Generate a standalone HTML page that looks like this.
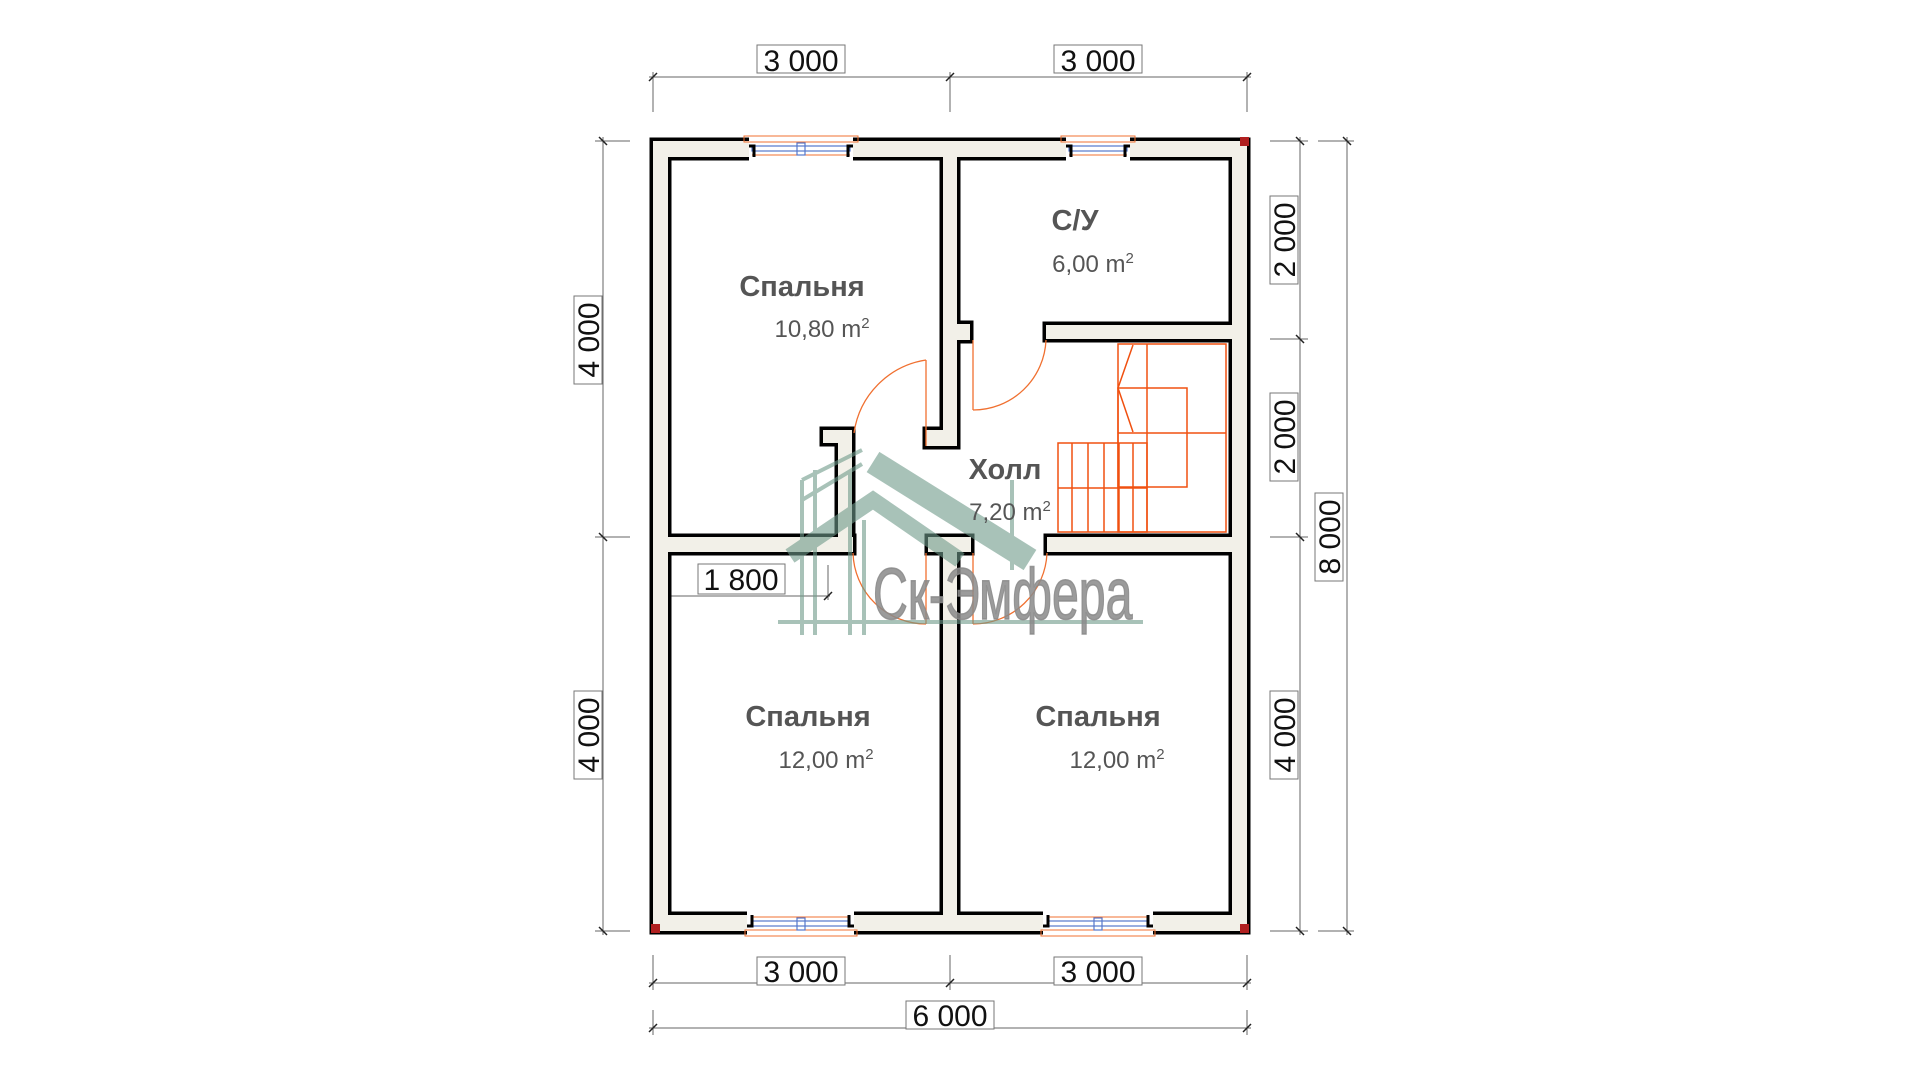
<!DOCTYPE html>
<html><head><meta charset="utf-8"><style>
html,body{margin:0;padding:0;background:#fff;}
svg{display:block;}
text{font-family:"Liberation Sans",sans-serif;}
</style></head><body>
<svg width="1920" height="1080" viewBox="0 0 1920 1080" xmlns="http://www.w3.org/2000/svg">
<rect width="1920" height="1080" fill="#fff"/>

<g stroke="#666" stroke-width="1" fill="none">
  <line x1="649" y1="77" x2="1251" y2="77"/>
  <line x1="653" y1="72" x2="653" y2="112"/><line x1="950" y1="72" x2="950" y2="112"/><line x1="1247" y1="72" x2="1247" y2="112"/>
  <line x1="649" y1="983" x2="1251" y2="983"/>
  <line x1="653" y1="955" x2="653" y2="990"/><line x1="950" y1="955" x2="950" y2="990"/><line x1="1247" y1="955" x2="1247" y2="990"/>
  <line x1="649" y1="1028" x2="1251" y2="1028"/>
  <line x1="653" y1="1010" x2="653" y2="1035"/><line x1="1247" y1="1010" x2="1247" y2="1035"/>
  <line x1="603" y1="137" x2="603" y2="935"/>
  <line x1="595" y1="141" x2="630" y2="141"/><line x1="595" y1="537" x2="630" y2="537"/><line x1="595" y1="931" x2="630" y2="931"/>
  <line x1="1300" y1="137" x2="1300" y2="935"/>
  <line x1="1270" y1="141" x2="1308" y2="141"/><line x1="1270" y1="339" x2="1308" y2="339"/><line x1="1270" y1="537" x2="1308" y2="537"/><line x1="1270" y1="931" x2="1308" y2="931"/>
  <line x1="1347" y1="137" x2="1347" y2="935"/>
  <line x1="1318" y1="141" x2="1354" y2="141"/><line x1="1318" y1="931" x2="1354" y2="931"/>
  <line x1="653" y1="596" x2="830" y2="596"/><line x1="828" y1="565" x2="828" y2="600"/>
</g>
<g stroke="#222" stroke-width="1.5">
  <line x1="649" y1="81" x2="657" y2="73"/><line x1="946" y1="81" x2="954" y2="73"/><line x1="1243" y1="81" x2="1251" y2="73"/>
  <line x1="649" y1="987" x2="657" y2="979"/><line x1="946" y1="987" x2="954" y2="979"/><line x1="1243" y1="987" x2="1251" y2="979"/>
  <line x1="649" y1="1032" x2="657" y2="1024"/><line x1="1243" y1="1032" x2="1251" y2="1024"/>
  <line x1="599" y1="137" x2="607" y2="145"/><line x1="599" y1="533" x2="607" y2="541"/><line x1="599" y1="927" x2="607" y2="935"/>
  <line x1="1296" y1="137" x2="1304" y2="145"/><line x1="1296" y1="335" x2="1304" y2="343"/><line x1="1296" y1="533" x2="1304" y2="541"/><line x1="1296" y1="927" x2="1304" y2="935"/>
  <line x1="1343" y1="137" x2="1351" y2="145"/><line x1="1343" y1="927" x2="1351" y2="935"/>
  <line x1="824" y1="600" x2="832" y2="592"/>
</g>

<g font-size="30" fill="#111" text-anchor="middle">
  <rect x="757" y="45" width="88" height="28" fill="#fff" stroke="#777"/><text x="801" y="71">3 000</text>
  <rect x="1054" y="45" width="88" height="28" fill="#fff" stroke="#777"/><text x="1098" y="71">3 000</text>
  <rect x="757" y="957" width="88" height="28" fill="#fff" stroke="#777"/><text x="801" y="982">3 000</text>
  <rect x="1054" y="957" width="88" height="28" fill="#fff" stroke="#777"/><text x="1098" y="982">3 000</text>
  <rect x="906" y="1001" width="88" height="28" fill="#fff" stroke="#777"/><text x="950" y="1026">6 000</text>
  <rect x="698" y="564" width="87" height="30" fill="#fff" stroke="#777"/><text x="741" y="590">1 800</text>
  <g transform="translate(588,340) rotate(-90)"><rect x="-44" y="-14" width="88" height="28" fill="#fff" stroke="#777"/><text x="0" y="11">4 000</text></g>
  <g transform="translate(588,735) rotate(-90)"><rect x="-44" y="-14" width="88" height="28" fill="#fff" stroke="#777"/><text x="0" y="11">4 000</text></g>
  <g transform="translate(1284,240) rotate(-90)"><rect x="-44" y="-14" width="88" height="28" fill="#fff" stroke="#777"/><text x="0" y="11">2 000</text></g>
  <g transform="translate(1284,437) rotate(-90)"><rect x="-44" y="-14" width="88" height="28" fill="#fff" stroke="#777"/><text x="0" y="11">2 000</text></g>
  <g transform="translate(1284,735) rotate(-90)"><rect x="-44" y="-14" width="88" height="28" fill="#fff" stroke="#777"/><text x="0" y="11">4 000</text></g>
  <g transform="translate(1329,537) rotate(-90)"><rect x="-44" y="-14" width="88" height="28" fill="#fff" stroke="#777"/><text x="0" y="11">8 000</text></g>
</g>

<g fill="#000" stroke="#000" stroke-width="7">
  <rect x="653" y="141" width="594" height="16"/>
  <rect x="653" y="915" width="594" height="16"/>
  <rect x="653" y="141" width="15" height="790"/>
  <rect x="1232" y="141" width="15" height="790"/>
  <rect x="943" y="141" width="14" height="305"/>
  <rect x="943" y="324" width="27" height="16"/>
  <rect x="926" y="430" width="31" height="16"/>
  <rect x="1046" y="325" width="186" height="14"/>
  <rect x="823" y="430" width="29" height="13"/>
  <rect x="838" y="430" width="14" height="120"/>
  <rect x="668" y="537" width="185" height="15"/>
  <rect x="928" y="537" width="43" height="15"/>
  <rect x="943" y="537" width="14" height="394"/>
  <rect x="1047" y="537" width="185" height="15"/>
</g>
<g fill="#f2f0e8">
  <rect x="653" y="141" width="594" height="16"/>
  <rect x="653" y="915" width="594" height="16"/>
  <rect x="653" y="141" width="15" height="790"/>
  <rect x="1232" y="141" width="15" height="790"/>
  <rect x="943" y="141" width="14" height="305"/>
  <rect x="943" y="324" width="27" height="16"/>
  <rect x="926" y="430" width="31" height="16"/>
  <rect x="1046" y="325" width="186" height="14"/>
  <rect x="823" y="430" width="29" height="13"/>
  <rect x="838" y="430" width="14" height="120"/>
  <rect x="668" y="537" width="185" height="15"/>
  <rect x="928" y="537" width="43" height="15"/>
  <rect x="943" y="537" width="14" height="394"/>
  <rect x="1047" y="537" width="185" height="15"/>
</g>
<rect x="1240" y="137" width="9" height="9" fill="#b02020"/>
<rect x="651" y="924" width="9" height="9" fill="#b02020"/>
<rect x="1240" y="924" width="9" height="9" fill="#b02020"/>

<g>
  <rect x="749" y="136" width="104" height="26" fill="#fff"/>
  <rect x="1066" y="136" width="64" height="26" fill="#fff"/>
  <rect x="747" y="910" width="107" height="26" fill="#fff"/>
  <rect x="1043" y="910" width="110" height="26" fill="#fff"/>
  <g fill="none" stroke="#f07030" stroke-width="1">
    <rect x="744" y="136" width="114" height="6"/><line x1="752" y1="155" x2="850" y2="155"/>
    <rect x="1061" y="136" width="74" height="6"/><line x1="1069" y1="155" x2="1127" y2="155"/>
    <rect x="745" y="930" width="112" height="6"/><line x1="752" y1="917" x2="850" y2="917"/>
    <rect x="1041" y="930" width="114" height="6"/><line x1="1048" y1="917" x2="1148" y2="917"/>
  </g>
  <g fill="none" stroke="#5577cc" stroke-width="1.2">
    <rect x="752" y="146" width="98" height="5"/><rect x="797" y="143" width="8" height="12"/>
    <rect x="1069" y="146" width="58" height="5"/>
    <rect x="752" y="921" width="98" height="5"/><rect x="797" y="918" width="8" height="12"/>
    <rect x="1048" y="921" width="100" height="5"/><rect x="1094" y="918" width="8" height="12"/>
  </g>
  <g stroke="#000" stroke-width="3" fill="none">
    <path d="M749 146 H754 V157 M853 146 H848 V157"/>
    <path d="M1066 146 H1071 V157 M1130 146 H1125 V157"/>
    <path d="M747 926 H752 V915 M854 926 H849 V915"/>
    <path d="M1043 926 H1048 V915 M1153 926 H1148 V915"/>
  </g>
</g>

<g fill="none" stroke="#f07030" stroke-width="1.3">
  <line x1="926" y1="360" x2="926" y2="446"/><path d="M926 360 A86 86 0 0 0 854 433"/>
  <line x1="973" y1="340" x2="973" y2="410"/><path d="M973 410 A73 73 0 0 0 1046 340"/>
  <line x1="926" y1="553" x2="926" y2="624"/><path d="M926 624 A73 73 0 0 1 853 553"/>
  <line x1="973" y1="553" x2="973" y2="624"/><path d="M973 624 A74 74 0 0 0 1047 553"/>
</g>

<g fill="none" stroke="#f05010" stroke-width="1.5">
  <rect x="1118" y="344" width="108" height="188"/>
  <line x1="1147" y1="344" x2="1147" y2="532"/>
  <rect x="1118" y="388" width="69" height="99"/>
  <line x1="1118" y1="433" x2="1226" y2="433"/>
  <polyline points="1133,345 1118,388 1133,432"/>
  <rect x="1058" y="443" width="89" height="89"/>
  <line x1="1072" y1="443" x2="1072" y2="532"/><line x1="1088" y1="443" x2="1088" y2="532"/>
  <line x1="1104" y1="443" x2="1104" y2="532"/><line x1="1119" y1="443" x2="1119" y2="532"/>
  <line x1="1133" y1="443" x2="1133" y2="532"/>
  <line x1="1058" y1="488" x2="1147" y2="488"/>
</g>

<g opacity="0.6">
  <g stroke="#6f9a8a" fill="none">
    <line x1="873" y1="462" x2="1030" y2="560" stroke-width="24"/>
    <polyline points="790,556 873,500 960,560" stroke-width="16"/>
    <g stroke-width="4">
      <line x1="802" y1="480" x2="862" y2="450"/><line x1="802" y1="500" x2="862" y2="464"/>
      <line x1="802" y1="480" x2="802" y2="635"/><line x1="815" y1="470" x2="815" y2="635"/>
      <line x1="850" y1="470" x2="850" y2="635"/><line x1="864" y1="520" x2="864" y2="635"/>
      <line x1="778" y1="622" x2="1143" y2="622"/>
      <line x1="1012" y1="480" x2="1012" y2="570"/>
    </g>
  </g>
</g>
<text x="873" y="619" font-size="72" fill="#8a8a8a" fill-opacity="0.85" stroke="#8a8a8a" stroke-opacity="0.85" stroke-width="1.5" transform="translate(873 0) scale(0.67 1) translate(-873 0)">Ск-Эмфера</text>

<g fill="#555" text-anchor="middle">
  <text x="802" y="296" font-size="29" font-weight="bold">Спальня</text>
  <text x="822" y="337" font-size="24">10,80 m<tspan font-size="15" dy="-9">2</tspan></text>
  <text x="1075" y="230" font-size="29" font-weight="bold">С/У</text>
  <text x="1093" y="272" font-size="24">6,00 m<tspan font-size="15" dy="-9">2</tspan></text>
  <text x="1005" y="479" font-size="29" font-weight="bold">Холл</text>
  <text x="1010" y="520" font-size="24">7,20 m<tspan font-size="15" dy="-9">2</tspan></text>
  <text x="808" y="726" font-size="29" font-weight="bold">Спальня</text>
  <text x="826" y="768" font-size="24">12,00 m<tspan font-size="15" dy="-9">2</tspan></text>
  <text x="1098" y="726" font-size="29" font-weight="bold">Спальня</text>
  <text x="1117" y="768" font-size="24">12,00 m<tspan font-size="15" dy="-9">2</tspan></text>
</g>
</svg>
</body></html>
